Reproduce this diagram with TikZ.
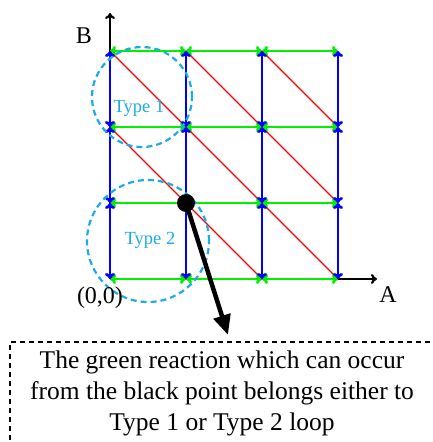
\documentclass[tikz,border=0pt]{standalone}
\usepackage{fontspec}
\setmainfont{Liberation Serif}
\usetikzlibrary{arrows.meta}
\definecolor{loopblue}{RGB}{30,170,230}
\definecolor{rxgreen}{RGB}{0,240,0}
\begin{document}
\begin{tikzpicture}[x=1pt,y=1pt,
  axis/.style={draw=black,line width=2.2pt,-{To[length=6pt,width=10pt]}},
  hedge/.style={draw=rxgreen,line width=2.8pt,{To[length=6pt,width=10pt]}-{To[length=6pt,width=10pt]}},
  vedge/.style={draw=blue,line width=2.8pt,{To[length=6pt,width=10pt]}-{To[length=6pt,width=10pt]}},
  dedge/.style={draw=red,line width=1.3pt},
  typeloop/.style={draw=loopblue,line width=2.2pt,dash pattern=on 6pt off 4pt},
  typelab/.style={text=loopblue,font=\fontsize{18.5}{20}\selectfont},
  axlab/.style={font=\fontsize{24}{28}\selectfont}]
\useasboundingbox (-110,-163) rectangle (323,279);
\foreach \i in {0,...,3} \foreach \j in {0,...,3} \coordinate (p\i\j) at (76*\i,76*\j);
\coordinate (xend) at (267,0);
\coordinate (yend) at (0,266);
\draw[axis] (p00) -- (xend);
\draw[axis] (p00) -- (yend);
\foreach \i/\k/\j/\l in {0/1/1/2,0/1/2/3,1/2/0/1,1/2/1/2,1/2/2/3,2/3/0/1,2/3/1/2,2/3/2/3}
  \draw[dedge] (p\i\l) -- (p\k\j);
\foreach \i/\k in {0/1,1/2,2/3} \foreach \j in {0,...,3} \draw[hedge] (p\i\j) -- (p\k\j);
\foreach \i in {0,...,3} \foreach \j/\l in {0/1,1/2,2/3} \draw[vedge] (p\i\j) -- (p\i\l);
\draw[typeloop] (32,182) circle (50);
\draw[typeloop] (38,38) circle (61);
\node[typelab] (type1) at (29,171) {Type 1};
\node[typelab] (type2) at (40,39) {Type 2};
\node[axlab] (labB) at (-26,243) {B};
\node[axlab] (labA) at (278,-16) {A};
\node[axlab] (orig) at (-10,-19) {(0,0)};
\coordinate (tip) at (118,-56);
\draw[line width=4.5pt,-{Triangle[length=20pt,width=17pt]}] (p11) -- (tip);
\node[circle,fill=black,minimum size=18,inner sep=0] (dot) at (p11) {};
\node[draw,line width=1.2pt,dash pattern=on 5pt off 4pt,minimum width=424,minimum height=103,align=center,
  font=\fontsize{25.5}{31}\selectfont] (note) at (112,-114.5)
  {The green reaction which can occur\\from the black point belongs either to\\Type 1 or Type 2 loop};
\end{tikzpicture}
\end{document}
